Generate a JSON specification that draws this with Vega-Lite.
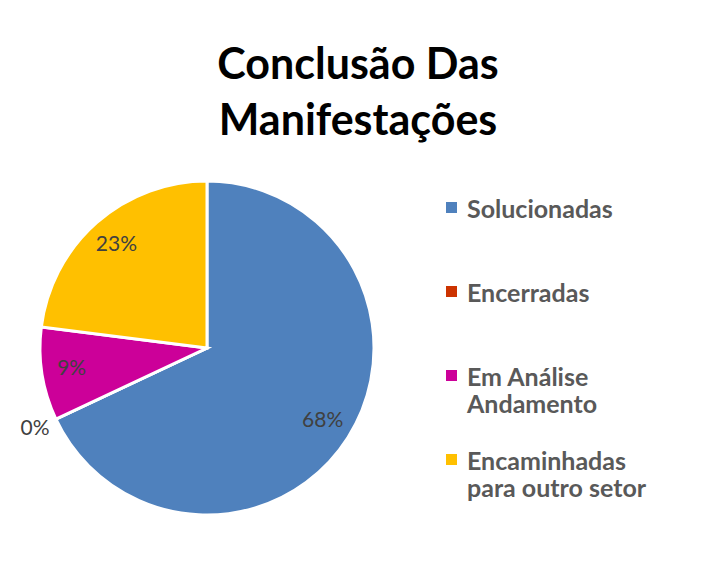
{
  "$schema": "https://vega.github.io/schema/vega-lite/v6.json",
  "autosize": "none",
  "width": 334,
  "height": 334,
  "padding": {"left": 40, "top": 181, "right": 331, "bottom": 62},
  "background": "white",
  "title": {
    "text": ["Conclusão Das", "Manifestações"],
    "font": "Lato",
    "fontSize": 43,
    "fontWeight": "bold",
    "color": "#000000",
    "lineHeight": 56,
    "anchor": "middle",
    "baseline": "alphabetic",
    "dx": 151,
    "offset": -3
  },
  "data": {
    "values": [
      {"categoria": "Solucionadas", "percentual": 0.68, "ordem": 1},
      {"categoria": "Encerradas", "percentual": 0, "ordem": 2},
      {"categoria": "Em Análise Andamento", "percentual": 0.09, "ordem": 3},
      {"categoria": "Encaminhadas para outro setor", "percentual": 0.23, "ordem": 4}
    ]
  },
  "encoding": {
    "theta": {"field": "percentual", "type": "quantitative", "stack": true},
    "order": {"field": "ordem", "type": "quantitative"}
  },
  "layer": [
    {
      "mark": {"type": "arc", "outerRadius": 167, "stroke": "white", "strokeWidth": 3},
      "encoding": {
        "color": {
          "field": "categoria",
          "type": "nominal",
          "scale": {
            "domain": ["Solucionadas", "Encerradas", "Em Análise Andamento", "Encaminhadas para outro setor"],
            "range": ["#4F81BD", "#CC3300", "#CC0099", "#FFC000"]
          },
          "legend": {
            "title": null,
            "orient": "none",
            "legendX": 399,
            "legendY": 4,
            "padding": 0,
            "symbolType": "M-1,0.82H1V2.82H-1Z",
            "symbolSize": 121,
            "symbolStrokeWidth": 0,
            "labelFont": "Lato",
            "labelFontSize": 25,
            "labelFontWeight": "bold",
            "labelColor": "#595959",
            "labelBaseline": "top",
            "labelOffset": 3,
            "labelLimit": 300,
            "rowPadding": 19,
            "labelExpr": "datum.label == 'Em Análise Andamento' ? ['Em Análise', 'Andamento'] : datum.label == 'Encaminhadas para outro setor' ? ['Encaminhadas', 'para outro setor'] : [datum.label, '']",
            "encode": {
              "labels": {"update": {"lineHeight": {"value": 31}}}
            }
          }
        }
      }
    },
    {
      "mark": {
        "type": "text",
        "font": "Lato",
        "fontSize": 21,
        "color": "#404040",
        "radius": {"expr": "datum.percentual == 0 ? 190 : 137"}
      },
      "encoding": {
        "text": {"field": "percentual", "type": "quantitative", "format": ".0%"}
      }
    }
  ],
  "config": {"view": {"stroke": null}}
}
